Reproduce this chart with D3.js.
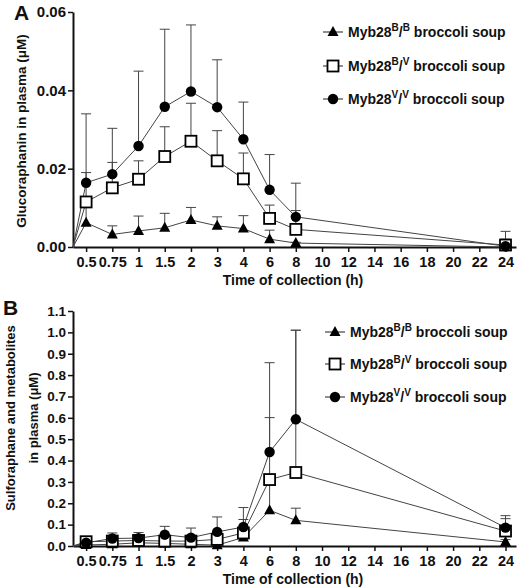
<!DOCTYPE html>
<html><head><meta charset="utf-8">
<script src="https://cdn.jsdelivr.net/npm/d3@7"></script>
<style>
body{margin:0;background:#fff;}
text{font-family:"Liberation Sans",Arial,sans-serif;font-weight:bold;fill:#111;}
</style></head><body>
<svg id="c" width="520" height="588"></svg>
<script>
// ---------- DATA ----------
const timeLabels = ["0.5","0.75","1","1.5","2","3","4","6","8","10","12","14","16","18","20","22","24"];
const sampleTimes = ["0","0.5","0.75","1","1.5","2","3","4","6","8","24"];
const seriesNames = ["Myb28B/B broccoli soup","Myb28B/V broccoli soup","Myb28V/V broccoli soup"];

// Panel A: glucoraphanin (µM)
const gluBB    = [0, 0.0062, 0.0032, 0.0041, 0.0049, 0.0069, 0.0054, 0.0047, 0.0020, 0.0010, 0.0000];
const gluBBerr = [0, 0.0104, 0.0054, 0.0079, 0.0086, 0.0101, 0.0077, 0.0080, 0.0043, 0.0012, 0.0002];
const gluBV    = [0, 0.0115, 0.0151, 0.0173, 0.0231, 0.0270, 0.0220, 0.0174, 0.0073, 0.0045, 0.0005];
const gluBVerr = [0, 0.0190, 0.0216, 0.0220, 0.0307, 0.0367, 0.0297, 0.0240, 0.0107, 0.0093, 0.0020];
const gluVV    = [0, 0.0164, 0.0186, 0.0258, 0.0358, 0.0397, 0.0357, 0.0275, 0.0146, 0.0077, 0.0002];
const gluVVerr = [0, 0.0340, 0.0303, 0.0449, 0.0556, 0.0567, 0.0478, 0.0370, 0.0236, 0.0163, 0.0040];

// Panel B: sulforaphane and metabolites (µM)
const sfBB    = [0, 0.005, 0.008, 0.015, 0.012, 0.008, 0.004, 0.040, 0.167, 0.120, 0.019];
const sfBBerr = [0, 0.010, 0.015, 0.025, 0.020, 0.015, 0.010, 0.060, 0.300, 0.177, 0.030];
const sfBV    = [0, 0.020, 0.023, 0.026, 0.023, 0.023, 0.031, 0.061, 0.311, 0.344, 0.070];
const sfBVerr = [0, 0.030, 0.045, 0.050, 0.040, 0.040, 0.050, 0.124, 0.601, 1.010, 0.128];
const sfVV    = [0, 0.015, 0.035, 0.037, 0.053, 0.039, 0.066, 0.089, 0.440, 0.593, 0.086];
const sfVVerr = [0, 0.025, 0.061, 0.063, 0.092, 0.084, 0.136, 0.180, 0.858, 1.010, 0.142];

const yTicksA = [0, 0.02, 0.04, 0.06];
const yTicksB = [0,0.1,0.2,0.3,0.4,0.5,0.6,0.7,0.8,0.9,1.0,1.1];

// ---------- DRAW ----------
const svg = d3.select("#c");
const col = "#111";
const lineCol = "#444";
const FF = '"Liberation Sans",Arial,sans-serif';

function timeIndex(t){ return t === "0" ? -0.5 : timeLabels.indexOf(t); }

function panel(cfg){
  const g = svg.append("g");
  const x = d3.scaleLinear().domain([-0.5, 16.4]).range([73, 516]);
  const y = d3.scaleLinear().domain([0, cfg.ymax]).range([cfg.y0, cfg.y1]);

  // axes
  const xa = d3.axisBottom(x).tickValues(d3.range(timeLabels.length))
    .tickFormat(i => timeLabels[i]).tickSize(5).tickSizeOuter(0);
  const gx = g.append("g").attr("transform", `translate(0,${cfg.y0})`).call(xa);
  gx.select(".domain").attr("stroke", col).attr("stroke-width", 2);
  gx.selectAll(".tick line").attr("stroke", col).attr("stroke-width", 1.5);
  gx.selectAll(".tick text").attr("font-size", 14.5).attr("dy", "0.8em").attr("fill", col)
    .attr("font-family", FF).attr("font-weight", "bold");

  const ya = d3.axisLeft(y).tickValues(cfg.yticks).tickFormat(cfg.yfmt).tickSize(5).tickPadding(2).tickSizeOuter(0);
  const gy = g.append("g").attr("transform", `translate(73,0)`).call(ya);
  gy.select(".domain").attr("stroke", col).attr("stroke-width", 2);
  gy.selectAll(".tick line").attr("stroke", col).attr("stroke-width", 1.5);
  gy.selectAll(".tick text").attr("font-size", cfg.yfs).attr("fill", col)
    .attr("font-family", FF).attr("font-weight", "bold");

  // x title
  g.append("text").attr("x", 293).attr("y", cfg.y0 + 38).attr("text-anchor", "middle")
    .attr("font-size", 14).text("Time of collection (h)");
  // y title
  const yt = g.append("text").attr("transform", `translate(${cfg.ytx},${cfg.yty}) rotate(-90)`)
    .attr("text-anchor", "middle").attr("font-size", cfg.ytfs);
  cfg.ytitle.forEach((s, i) => yt.append("tspan").attr("x", 0).attr("dy", i === 0 ? 0 : "1.77em").text(s));
  // panel letter
  g.append("text").attr("x", cfg.lx).attr("y", cfg.ly).attr("font-size", 21).text(cfg.letter);

  const series = cfg.series;
  const line = d3.line().x((d, i) => x(timeIndex(sampleTimes[i]))).y(d => y(d));

  series.forEach(s => {
    // error bars (upward only)
    s.vals.forEach((v, i) => {
      if (i === 0) return;
      const cx = x(timeIndex(sampleTimes[i]));
      const e = s.err[i];
      if (e <= v) return;
      g.append("line").attr("x1", cx).attr("x2", cx).attr("y1", y(v)).attr("y2", y(e))
        .attr("stroke", lineCol).attr("stroke-width", 1);
      g.append("line").attr("x1", cx - 5).attr("x2", cx + 5).attr("y1", y(e)).attr("y2", y(e))
        .attr("stroke", lineCol).attr("stroke-width", 1);
    });
  });
  series.forEach(s => {
    g.append("path").datum(s.vals).attr("d", line).attr("fill", "none")
      .attr("stroke", lineCol).attr("stroke-width", 1);
  });
  series.forEach(s => {
    s.vals.forEach((v, i) => {
      if (i === 0) return;
      marker(g, s.shape, x(timeIndex(sampleTimes[i])), y(v));
    });
  });

  // legend
  const legLabels = [["B","B",""],["B","V",""],["V","V"," "]];
  series.forEach((s, k) => {
    const ly = cfg.legY[k];
    const mx = cfg.legX;
    g.append("line").attr("x1", mx - 10).attr("x2", mx + 10).attr("y1", ly).attr("y2", ly)
      .attr("stroke", lineCol).attr("stroke-width", 1.2);
    marker(g, s.shape, mx, ly);
    const t = g.append("text").attr("x", mx + 15).attr("y", ly + 5).attr("font-size", 14);
    const L = legLabels[k];
    t.append("tspan").text("Myb28");
    t.append("tspan").attr("font-size", 10).attr("dy", -6).text(L[0]);
    t.append("tspan").attr("dy", 6).text("/");
    t.append("tspan").attr("font-size", 10).attr("dy", -6).text(L[1]);
    t.append("tspan").attr("dy", 6).text(L[2] + " broccoli soup");
  });
}

function marker(g, shape, cx, cy){
  if (shape === "circle") {
    g.append("circle").attr("cx", cx).attr("cy", cy).attr("r", 5.2).attr("fill", "#000");
  } else if (shape === "square") {
    g.append("rect").attr("x", cx - 5.5).attr("y", cy - 5.5).attr("width", 11).attr("height", 11)
      .attr("fill", "#fff").attr("stroke", "#000").attr("stroke-width", 1.8);
  } else {
    g.append("path").attr("d", `M${cx},${cy-6}L${cx+5.5},${cy+4}L${cx-5.5},${cy+4}Z`).attr("fill", "#000");
  }
}

panel({
  ymax: 0.06, y0: 247, y1: 12, yticks: yTicksA, yfmt: d3.format(".2f"), yfs: 15,
  ytitle: ["Glucoraphanin in plasma (\u03bcM)"], ytx: 26, yty: 131, ytfs: 13.5,
  letter: "A", lx: 14, ly: 20,
  legX: 333, legY: [32, 66, 99],
  series: [
    {vals: gluBB, err: gluBBerr, shape: "triangle"},
    {vals: gluBV, err: gluBVerr, shape: "square"},
    {vals: gluVV, err: gluVVerr, shape: "circle"}
  ]
});

panel({
  ymax: 1.1, y0: 546, y1: 311, yticks: yTicksB, yfmt: d3.format(".1f"), yfs: 13.5,
  ytitle: ["Sulforaphane and metabolites", "in plasma (\u03bcM)"], ytx: 14.5, yty: 418, ytfs: 13,
  letter: "B", lx: 3, ly: 315,
  legX: 335, legY: [332, 364, 397],
  series: [
    {vals: sfBB, err: sfBBerr, shape: "triangle"},
    {vals: sfBV, err: sfBVerr, shape: "square"},
    {vals: sfVV, err: sfVVerr, shape: "circle"}
  ]
});
</script>
</body></html>
